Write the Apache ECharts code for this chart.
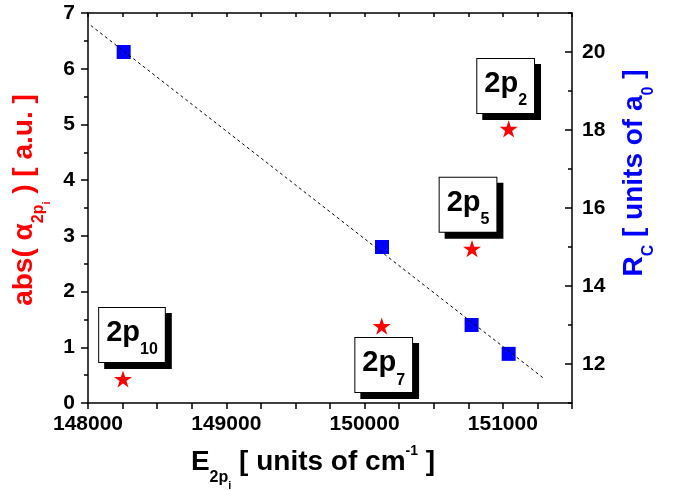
<!DOCTYPE html>
<html>
<head>
<meta charset="utf-8">
<script src="https://cdn.jsdelivr.net/npm/echarts@6/dist/echarts.min.js"></script>
<style>
  html, body { margin: 0; padding: 0; background: #ffffff; }
  #chart { width: 674px; height: 491px; }
</style>
</head>
<body>
<div id="chart"></div>
<script>
// Ne 2p_i levels: polarizability magnitude (left axis) and critical radius R_C (right axis)
const levelSubscripts = ['10', '7', '5', '2'];
const starEnergy = [148253, 150124, 150777, 151042];   // cm^-1
const alphaAbs = [0.43, 1.38, 2.77, 4.92];             // a.u.
const squareEnergy = [148258, 150126, 150774, 151042]; // cm^-1
const rcValues = [20.0, 15.0, 13.0, 12.26];            // a0
// linear fit of R_C versus energy (end points)
const fitEnergy = [148020, 151300];
const fitRc = [20.68, 11.62];
// tick labels
const xTickLabels = [148000, 149000, 150000, 151000];
const rightTickLabels = [12, 14, 16, 18, 20];

const FONT = 'Liberation Sans, Arial, sans-serif';
const RED = '#ff0000';
const BLUE = '#0000ff';

// placement of the level boxes relative to their star (px)
const boxOffsets = [[9, -44], [2, 39], [-4, -44], [-3, -43]];

const starPath = 'path://M50,0L61.2,34.6L97.6,34.5L68.1,55.9L79.4,90.5L50,69L20.6,90.5L31.9,55.9L2.4,34.5L38.8,34.6Z';

const starData = starEnergy.map((e, i) => ({
  value: [e, alphaAbs[i]],
  label: {
    offset: boxOffsets[i],
    formatter: '{m|2p}{s|' + levelSubscripts[i] + '}'
  }
}));
const squareData = squareEnergy.map((e, i) => [e, rcValues[i]]);
const fitData = fitEnergy.map((e, i) => [e, fitRc[i]]);

function titleRich(color) {
  return {
    m: { fontFamily: FONT, fontWeight: 'bold', fontSize: 28, color: color },
    s: { fontFamily: FONT, fontWeight: 'bold', fontSize: 16, color: color, padding: [30, 0, 0, 0] },
    t: { fontFamily: FONT, fontWeight: 'bold', fontSize: 11, color: color, padding: [46, 0, 0, 0] },
    u: { fontFamily: FONT, fontWeight: 'bold', fontSize: 14, color: color, padding: [0, 0, 22, 0] }
  };
}

const plainNumber = (v) => String(v);
const tickLabelStyle = { fontFamily: FONT, fontWeight: 'bold', fontSize: 21, color: '#000', formatter: plainNumber };
const axisLineStyle = { color: '#000', width: 1.5 };

const chart = echarts.init(document.getElementById('chart'), null, { renderer: 'canvas' });

chart.setOption({
  animation: false,
  backgroundColor: '#ffffff',
  grid: { left: 88, right: 102, top: 13, bottom: 88, containLabel: false, outerBoundsMode: 'none' },
  xAxis: [
    {
      type: 'value', position: 'bottom', min: 148000, max: 151500, interval: 250,
      axisLine: { show: true, onZero: false, lineStyle: axisLineStyle },
      axisTick: { show: true, inside: false, length: 6, lineStyle: axisLineStyle },
      splitLine: { show: false },
      axisLabel: { customValues: xTickLabels, margin: 11, ...tickLabelStyle },
      name: '{m|E}{s|2p}{t|i}{m| [ units of cm}{u|-1}{m| ]}',
      nameLocation: 'middle', nameGap: 31,
      nameTextStyle: { rich: titleRich('#000'), padding: [0, 34, 0, 0] }
    },
    {
      type: 'value', position: 'top', min: 148000, max: 151500, interval: 250,
      axisLine: { show: true, onZero: false, lineStyle: axisLineStyle },
      axisTick: { show: true, inside: true, length: 4, lineStyle: axisLineStyle },
      axisLabel: { show: false },
      splitLine: { show: false }
    }
  ],
  yAxis: [
    {
      type: 'value', position: 'left', min: 0, max: 7, interval: 1,
      axisLine: { show: true, onZero: false, lineStyle: axisLineStyle },
      axisTick: { show: true, inside: false, length: 7, lineStyle: axisLineStyle },
      minorTick: { show: true, splitNumber: 2, length: 4, lineStyle: axisLineStyle },
      splitLine: { show: false },
      minorSplitLine: { show: false },
      axisLabel: { margin: 13, ...tickLabelStyle },
      name: '{m|abs( α}{s|2p}{t|i}{m| ) [ a.u. ]}',
      nameLocation: 'middle', nameRotate: 90, nameGap: 29,
      nameTextStyle: { rich: titleRich(RED), padding: [0, 0, 0, 16] }
    },
    {
      type: 'value', position: 'right', min: 11, max: 21, interval: 2,
      axisLine: { show: true, onZero: false, lineStyle: axisLineStyle },
      axisTick: { show: true, inside: true, length: 4, lineStyle: axisLineStyle },
      minorTick: { show: true, splitNumber: 2, length: 7, lineStyle: axisLineStyle },
      splitLine: { show: false },
      minorSplitLine: { show: false },
      axisLabel: { customValues: rightTickLabels, margin: 10, ...tickLabelStyle },
      name: '{m|R}{s|C}{m| [ units of a}{s|0}{m| ]}',
      nameLocation: 'middle', nameRotate: 90, nameGap: 39,
      nameTextStyle: { rich: titleRich(BLUE), padding: [0, 0, 0, 70] }
    }
  ],
  series: [
    {
      type: 'scatter', xAxisIndex: 0, yAxisIndex: 1,
      symbol: 'rect', symbolSize: 14,
      itemStyle: { color: BLUE, opacity: 1 },
      data: squareData, z: 3
    },
    {
      type: 'line', xAxisIndex: 0, yAxisIndex: 1,
      showSymbol: false, symbol: 'none',
      lineStyle: { color: '#000', width: 1, type: [3, 3] },
      data: fitData, z: 4
    },
    {
      type: 'scatter', xAxisIndex: 0, yAxisIndex: 0,
      symbol: starPath, symbolSize: 18, symbolKeepAspect: true,
      itemStyle: { color: RED, opacity: 1 },
      data: starData, z: 5,
      label: {
        show: true, position: 'inside',
        backgroundColor: '#ffffff', borderColor: '#000', borderWidth: 1,
        padding: [0, 7, 4, 7],
        shadowColor: '#000', shadowOffsetX: 6, shadowOffsetY: 6, shadowBlur: 0,
        rich: {
          m: { fontFamily: FONT, fontWeight: 'bold', fontSize: 29, color: '#000' },
          s: { fontFamily: FONT, fontWeight: 'bold', fontSize: 16, color: '#000', padding: [34, 0, 0, 0] }
        }
      }
    }
  ]
});
</script>
</body>
</html>
